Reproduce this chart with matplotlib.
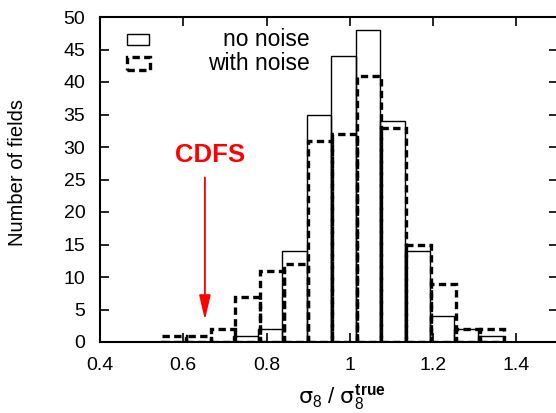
import numpy as np
import matplotlib.pyplot as plt
from matplotlib.patches import Rectangle

plt.rcParams['font.family'] = ['Liberation Sans', 'DejaVu Sans']
plt.rcParams['mathtext.fontset'] = 'custom'
plt.rcParams['mathtext.rm'] = 'Liberation Sans'
plt.rcParams['mathtext.bf'] = 'Liberation Sans:bold'
plt.rcParams['mathtext.it'] = 'DejaVu Sans'

# границы бинов (по sigma_8 / sigma_8^true)
bin_edges = [0.544, 0.603, 0.662, 0.720, 0.780, 0.838, 0.896, 0.954,
             1.014, 1.072, 1.132, 1.192, 1.250, 1.309, 1.367]
# число полей в каждом бине
counts_no_noise = [0, 0, 0, 1, 2, 14, 35, 44, 48, 34, 14, 4, 2, 1]
counts_with_noise = [1, 1, 2, 7, 11, 12, 31, 32, 41, 33, 15, 9, 2, 2]

cdfs_x = 0.652

edges = np.array(bin_edges)
widths = np.diff(edges)

fig = plt.figure(figsize=(5.56, 4.13), dpi=100)
ax = fig.add_axes([100 / 556, 1 - 342 / 413, 458 / 556, 325 / 413])

ax.bar(edges[:-1], counts_no_noise, width=widths, align='edge',
       fill=False, edgecolor='black', linewidth=1.0)
ax.bar(edges[:-1] + 0.004, counts_with_noise, width=widths, align='edge',
       fill=False, edgecolor='black', linewidth=2.4, linestyle=(0, (2.2, 1.3)))

ax.set_xlim(0.4, 1.5)
ax.set_ylim(0, 50)
ax.set_xticks([0.4, 0.6, 0.8, 1.0, 1.2, 1.4])
ax.set_xticklabels(['0.4', '0.6', '0.8', '1', '1.2', '1.4'])
ax.set_yticks(np.arange(0, 51, 5))
ax.tick_params(direction='in', top=True, right=True, length=6.5, width=1.2,
               labelsize=14)
ax.tick_params(axis='x', pad=11)
ax.tick_params(axis='y', pad=10.5)
for s in ax.spines.values():
    s.set_linewidth(1.5)

ax.set_ylabel('Number of fields', fontsize=14.5, va='center')
ax.yaxis.set_label_coords(-82 / 458, 0.52)
ax.set_xlabel(r'$\sigma_8$ / $\sigma_8^{\mathbf{true}}$', fontsize=16, va='center')
ax.xaxis.set_label_coords(242 / 458, -55 / 325)

# стрелка CDFS
ax.annotate('', xy=(cdfs_x, 3.4), xytext=(cdfs_x, 25.3),
            arrowprops=dict(arrowstyle='-|>,head_length=1.5,head_width=0.35',
                            color='red', lw=1.3, shrinkA=0, shrinkB=0))
ax.text(cdfs_x + 0.012, 28.8, 'CDFS', color='red', fontsize=18.5,
        fontweight='bold', ha='center', va='center')

# легенда в стиле gnuplot
ax.add_patch(Rectangle((27 / 458, 1 - 28 / 325), 22 / 458, 11 / 325,
                       transform=ax.transAxes, fill=False, edgecolor='black', lw=1.0))
ax.add_patch(Rectangle((27 / 458, 1 - 53 / 325), 23 / 458, 13 / 325,
                       transform=ax.transAxes, fill=False, edgecolor='black', lw=2.4,
                       linestyle=(0, (2.2, 1.3))))
ax.text(210 / 458, 1 - 23 / 325, 'no noise', transform=ax.transAxes,
        ha='right', va='center', fontsize=16.5)
ax.text(210 / 458, 1 - 46 / 325, 'with noise', transform=ax.transAxes,
        ha='right', va='center', fontsize=16.5)

fig.savefig('out.png', dpi=100)
